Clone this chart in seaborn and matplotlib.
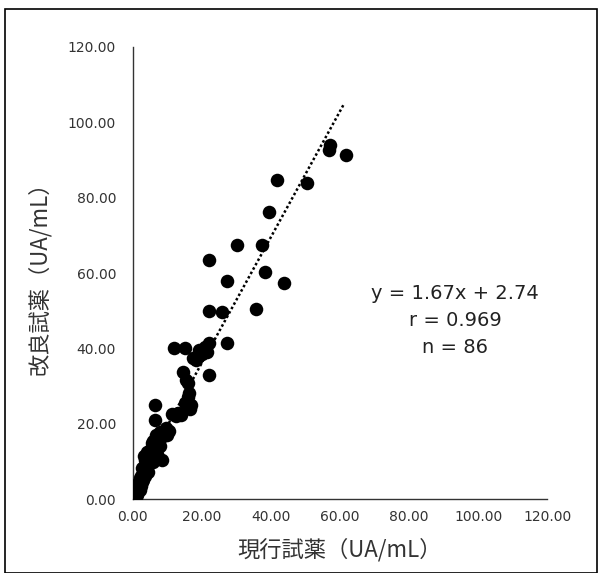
import matplotlib
matplotlib.use("Agg")
import matplotlib.pyplot as plt
import seaborn as sns
import pandas as pd
import numpy as np
from matplotlib.patches import Rectangle

current = [57.1, 56.8, 61.7, 41.7, 50.4, 39.4, 30.1, 37.4, 38.3, 43.8, 35.7, 27.2, 22.0, 22.0, 25.8,
           27.2, 11.9, 15.1, 19.1, 22.0, 21.4, 18.3, 14.5, 22.0, 15.9, 16.2, 15.1, 16.5, 13.9, 11.3,
           6.4, 6.4, 8.7, 6.7, 5.5, 4.1, 8.4, 5.8, 3.5, 2.9, 2.6, 1.4, 0.6, 0.0,
           9.5, 10.5,
           1.0, 1.8, 2.2, 3.0, 3.3, 3.8, 4.5, 4.2, 3.2, 5.0, 2.0, 1.2, 0.4, 2.5, 4.8, 7.0,
           6.0, 7.5, 9.0, 1.6, 3.6, 4.4, 5.2, 7.8, 2.8, 0.9, 1.5, 2.3, 6.2, 8.0, 9.8, 12.5,
           13.0, 17.0, 16.0, 15.5, 17.5, 20.0, 21.0, 3.9]
improved = [94.0, 92.6, 91.3, 84.7, 83.9, 76.2, 67.4, 67.4, 60.3, 57.3, 50.4, 57.9, 63.4, 49.9, 49.6,
            41.4, 40.1, 40.1, 39.6, 41.4, 39.0, 36.9, 33.7, 32.9, 30.8, 28.1, 25.5, 23.9, 22.3, 22.6,
            25.0, 21.0, 16.7, 17.0, 14.9, 11.7, 10.4, 9.8, 10.4, 6.9, 4.5, 3.2, 1.6, 0.3,
            19.0, 18.0,
            2.0, 3.8, 5.5, 5.0, 7.8, 8.8, 9.0, 12.5, 11.5, 13.0, 2.5, 1.0, 0.5, 6.2, 10.8, 12.0,
            15.5, 16.0, 17.5, 4.2, 6.0, 7.2, 11.4, 14.0, 8.2, 0.8, 2.6, 3.5, 12.8, 17.8, 16.9, 22.0,
            22.8, 25.0, 27.0, 31.5, 37.5, 38.5, 40.5, 10.0]

slope, intercept = 1.67, 2.74
line_x = [0.0, 61.0]
ticks = [0, 20, 40, 60, 80, 100, 120]
tick_labels = ["0.00", "20.00", "40.00", "60.00", "80.00", "100.00", "120.00"]
eq_lines = ["y = 1.67x + 2.74", "r = 0.969", "n = 86"]

df = pd.DataFrame({"current": current, "improved": improved})

sns.set_style("white")
plt.rcParams['font.family'] = ['DejaVu Sans', 'Noto Sans CJK JP']

fig = plt.figure(figsize=(5.98, 5.73), dpi=100)
ax = fig.add_axes([0.222, 0.129, 0.693, 0.789])

sns.scatterplot(data=df, x="current", y="improved", ax=ax, s=95, color="black",
                edgecolor="black", linewidth=0, zorder=3)
lx = np.array(line_x)
ax.plot(lx, slope * lx + intercept, linestyle=(0, (1, 1.0)), color="black", linewidth=1.8, zorder=4)

ax.set_xlim(0, 120)
ax.set_ylim(0, 120)
ax.set_xticks(ticks)
ax.set_yticks(ticks)
ax.set_xticklabels(tick_labels, fontsize=10, color="#333333")
ax.set_yticklabels(tick_labels, fontsize=10, color="#333333")
ax.tick_params(axis="x", direction="in", length=5, width=1, color="#333333", pad=8)
ax.tick_params(axis="y", direction="in", length=5, width=1, color="#333333", pad=12)
for s in ["top", "right"]:
    ax.spines[s].set_visible(False)
for s in ["left", "bottom"]:
    ax.spines[s].set_color("#333333")
    ax.spines[s].set_linewidth(1)

ax.set_xlabel("現行試薬（UA/mL）", fontsize=16, color="#333333", labelpad=10,
              family=['Noto Sans CJK JP', 'DejaVu Sans'])
ax.set_ylabel("改良試薬（UA/mL）", fontsize=16, color="#333333", labelpad=12,
              family=['Noto Sans CJK JP', 'DejaVu Sans'])

for i, t in enumerate(eq_lines):
    ax.text(93.3, 54.7 - i * 7.2, t, ha="center", va="center", fontsize=14, color="#222222")

fig.patches.append(Rectangle((0.008, 0.0), 0.99, 0.984, transform=fig.transFigure,
                             fill=False, edgecolor="black", linewidth=1.2))

fig.savefig("out.png", dpi=100)
